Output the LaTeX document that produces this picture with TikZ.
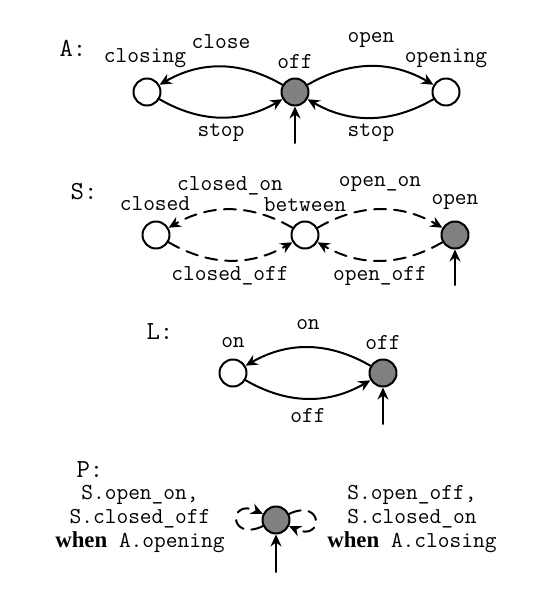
\documentclass[tikz,border=0pt]{standalone}
\usepackage{fontspec}
\setmainfont{Liberation Serif}
\usetikzlibrary{arrows,arrows.meta}

\begin{document}
\begin{tikzpicture}[line cap=round,line join=round,>={Stealth[length=6pt,width=5.5pt,inset=2pt]},x=0.5pt,y=0.5pt,
  state/.style={circle,draw,line width=1pt,minimum size=13.5pt,inner sep=0pt},
  initstate/.style={state,fill=gray},
  trans/.style={->,line width=1pt},
  dtrans/.style={trans,dash pattern=on 6pt off 4pt},
  txt/.style={font=\ttfamily\fontsize{11.4}{12}\selectfont,inner sep=0pt},
  sysname/.style={font=\ttfamily\fontsize{13}{14}\selectfont,inner sep=0pt}]
\useasboundingbox (0,0) rectangle (533,602);
% A
\node[sysname] (A) at (73,554) {A:};
\node[state] (aclosing) at (147,510) {};
\node[initstate] (aoff) at (295,510) {};
\node[state] (aopening) at (446,510) {};
\node[txt] (naclosing) at (145,544) {closing};
\node[txt] (naoff) at (295,540) {off};
\node[txt] (naopening) at (446,544) {opening};
\draw[trans] (aoff) to[bend right=30] (aclosing);
\draw[trans] (aclosing) to[bend right=30] (aoff);
\draw[trans] (aoff) to[bend left=30] (aopening);
\draw[trans] (aopening) to[bend left=30] (aoff);
\node[txt] (lclose) at (221,560) {close};
\node[txt] (lstop1) at (221,469) {stop};
\node[txt] (lopen) at (371,562) {open};
\node[txt] (lstop2) at (371,469) {stop};
\coordinate (ainit) at (295,459);
\draw[trans] (ainit) -- (aoff);
% S
\node[sysname] (S) at (84,410) {S:};
\node[state] (sclosed) at (156,367) {};
\node[state] (sbetween) at (305,367) {};
\node[initstate] (sopen) at (455,367) {};
\node[txt] (nsclosed) at (155,398) {closed};
\node[txt] (nsbetween) at (305,397) {between};
\node[txt] (nsopen) at (455,400) {open};
\draw[dtrans] (sbetween) to[bend right=30] (sclosed);
\draw[dtrans] (sclosed) to[bend right=30] (sbetween);
\draw[dtrans] (sbetween) to[bend left=30] (sopen);
\draw[dtrans] (sopen) to[bend left=30] (sbetween);
\node[txt] (lclosedon) at (230,416) {closed\_on};
\node[txt] (lclosedoff) at (230,326) {closed\_off};
\node[txt] (lopenon) at (380,418) {open\_on};
\node[txt] (lopenoff) at (380,326) {open\_off};
\coordinate (sinit) at (455,317);
\draw[trans] (sinit) -- (sopen);
% L
\node[sysname] (L) at (160,270) {L:};
\node[state] (lon) at (233,229) {};
\node[initstate] (loff) at (383,229) {};
\node[txt] (nlon) at (233,259) {on};
\node[txt] (nloff) at (383,259) {off};
\draw[trans] (loff) to[bend right=30] (lon);
\draw[trans] (lon) to[bend right=30] (loff);
\node[txt] (llon) at (308,277) {on};
\node[txt] (lloff) at (308,186) {off};
\coordinate (linit) at (383,178);
\draw[trans] (linit) -- (loff);
% P
\node[sysname] (P) at (90,132) {P:};
\node[initstate] (p) at (276,82) {};
\node[txt,align=center] (pleft) at (140,83) {S.open\_on,\\S.closed\_off\\{\rmfamily\bfseries when} A.opening};
\node[txt,align=center] (pright) at (412,83) {S.open\_off,\\S.closed\_on\\{\rmfamily\bfseries when} A.closing};
\draw[dtrans] (p) to[out=205,in=155,looseness=8] (p);
\draw[dtrans] (p) to[out=25,in=-25,looseness=8] (p);
\coordinate (pinit) at (276,30);
\draw[trans] (pinit) -- (p);
\end{tikzpicture}
\end{document}
